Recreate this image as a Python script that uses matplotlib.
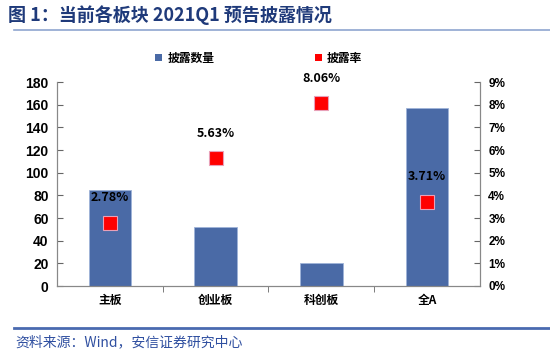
import matplotlib
matplotlib.use("Agg")
import matplotlib.pyplot as plt
from matplotlib.ticker import PercentFormatter, FixedLocator
from matplotlib.lines import Line2D
from matplotlib.patches import Patch

plt.rcParams['font.family'] = ['Noto Sans CJK SC', 'DejaVu Sans']

# data
boards = ['主板', '创业板', '科创板', '全A']
counts = [85, 52, 20, 157]
rates = [0.0278, 0.0563, 0.0806, 0.0371]
rate_labels = ['2.78%', '5.63%', '8.06%', '3.71%']

bar_color = '#4A6AA6'
title_color = '#1F3A7A'
line_color = '#4A6AB0'

fig = plt.figure(figsize=(5.5, 3.52), dpi=100)
ax = fig.add_axes([0.1036, 0.1875, 0.7691, 0.5795])
ax2 = ax.twinx()

x = list(range(len(boards)))
ax.bar(x, counts, width=0.4, color=bar_color, edgecolor='#9FB3D8', linewidth=0.6, zorder=2)
ax.set_xlim(-0.5, 3.5)
ax.set_ylim(0, 180)
ax.set_yticks(range(0, 181, 20))
ax.set_xticks(x)
ax.set_xticklabels(boards, fontsize=8.5, fontweight='bold')
ax.xaxis.set_minor_locator(FixedLocator([0.5, 1.5, 2.5]))
ax.tick_params(axis='x', which='major', length=0, pad=6)
ax.tick_params(axis='x', which='minor', length=4, direction='out', color='#666666')
ax.tick_params(axis='y', direction='in', length=4, color='#666666', pad=6)
for lab in ax.get_yticklabels():
    lab.set_fontsize(10)
    lab.set_fontfamily(['Liberation Sans'])
    lab.set_fontweight('bold')

ax2.plot(x, rates, linestyle='none', marker='s', markersize=10.5,
         markerfacecolor='#FF0000', markeredgecolor='#E8A0B8', markeredgewidth=0.8, zorder=3)
for xi, r, t in zip(x, rates, rate_labels):
    ax2.annotate(t, (xi, r), xytext=(0, 18), textcoords='offset points',
                 ha='center', va='center', fontsize=9, fontweight='bold')
ax2.set_ylim(0, 0.09)
ax2.set_yticks([i / 100 for i in range(10)])
ax2.yaxis.set_major_formatter(PercentFormatter(1.0, decimals=0))
ax2.tick_params(axis='y', direction='in', length=4, color='#666666', pad=6)
for lab in ax2.get_yticklabels():
    lab.set_fontsize(8.5)
    lab.set_fontfamily(['Liberation Sans'])
    lab.set_fontweight('bold')

for a in (ax, ax2):
    a.spines['top'].set_visible(False)
    for s in ('left', 'right', 'bottom'):
        a.spines[s].set_color('#888888')
        a.spines[s].set_linewidth(0.8)

handles = [Patch(facecolor=bar_color, edgecolor='none'),
           Patch(facecolor='#FF0000', edgecolor='none')]
fig.legend(handles, ['披露数量', '披露率'], loc='center', bbox_to_anchor=(0.47, 0.835),
           ncol=2, frameon=False, handlelength=0.6, handleheight=0.6,
           handletextpad=0.4, columnspacing=8.5,
           prop={'weight': 'bold', 'size': 8.5})

# title and source
fig.text(0.015, 0.958, '图 1：当前各板块 2021Q1 预告披露情况', fontsize=13, fontweight='bold',
         color=title_color, va='center', ha='left')
fig.add_artist(Line2D([0.025, 1.0], [0.915, 0.915], color='#8FA6D0', linewidth=1.2))
fig.add_artist(Line2D([0.025, 1.0], [0.068, 0.068], color=line_color, linewidth=2))
fig.text(0.028, 0.028, '资料来源：Wind，安信证券研究中心', fontsize=10, style='italic',
         color='#2F4FA0', va='center', ha='left')

fig.savefig('out.png', dpi=100)
